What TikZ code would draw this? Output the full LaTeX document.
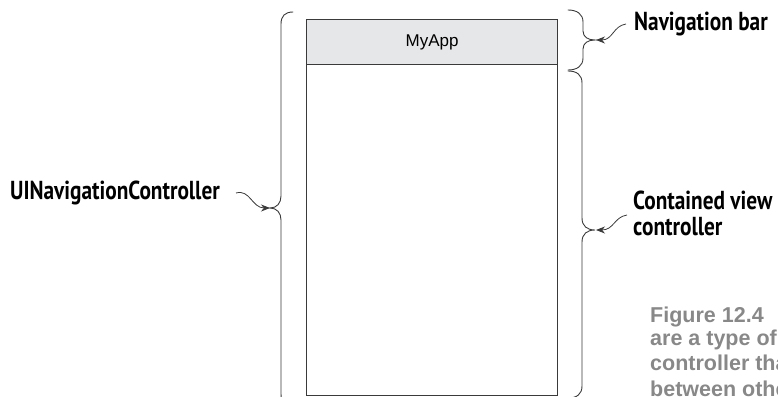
\documentclass[tikz,border=0pt]{standalone}
\usepackage{fontspec}
\setmainfont{Liberation Sans}
\newfontfamily\labfont[FakeStretch=0.82]{PT Sans}
\usetikzlibrary{arrows.meta}
\definecolor{navgray}{HTML}{E6E7E8}
\definecolor{linegray}{HTML}{3A3A3A}
\definecolor{capgray}{HTML}{888888}
\tikzset{
  brace/.style={draw=linegray, line width=0.9pt, line cap=round},
  ptr/.style={draw=linegray, line width=0.8pt, -{Stealth[length=9pt,width=7pt]}},
  lab/.style={font=\labfont\bfseries\fontsize{26}{26}\selectfont, inner sep=0pt, anchor=base west, align=left},
  capline/.style={font=\bfseries\fontsize{21.5}{21}\selectfont, text=capgray, inner sep=0pt, anchor=base west},
  screen/.style={draw=linegray, line width=1.3pt, inner sep=0pt, anchor=north west}
}
\begin{document}
\begin{tikzpicture}[x=1pt,y=-1pt]
\useasboundingbox (0,0) rectangle (778,396);
% screen
\node[screen, fill=navgray, minimum width=251pt, minimum height=45pt, font=\fontsize{17}{20}\selectfont] (bar) at (306,19) {MyApp};
\node[screen, minimum width=251pt, minimum height=331pt] (body) at (306,64) {};
% braces
\draw[brace] (293,12) .. controls (285,12) and (281,16) .. (281,24) -- (281,196)
  .. controls (281,203) and (277,208) .. (270,208)
  .. controls (277,208) and (281,213) .. (281,220) -- (281,394)
  .. controls (281,402) and (285,406) .. (293,406);
\coordinate (ltip) at (270,208);
\draw[brace] (568,10) .. controls (577,10) and (583,14) .. (583,22) -- (583,31)
  .. controls (583,37) and (588,40) .. (595,40)
  .. controls (588,40) and (583,43) .. (583,49) -- (583,58)
  .. controls (583,66) and (577,70) .. (568,70);
\coordinate (ntip) at (596,40);
\draw[brace] (568,71) .. controls (577,71) and (582,75) .. (582,83) -- (582,218)
  .. controls (582,226) and (587,230) .. (595,230)
  .. controls (587,230) and (582,234) .. (582,242) -- (582,386)
  .. controls (582,394) and (577,398) .. (568,398);
\coordinate (ctip) at (596,230);
% labels
\node[lab] (uinav) at (10,199) {UINavigationController};
\node[lab] (navbar) at (634,31) {Navigation bar};
\node[lab] (contained) at (633,235) {Contained view\\controller};
% pointers
\draw[ptr] (236,193) .. controls (250,189) and (252,208) .. (ltip);
\draw[ptr] (626,24) .. controls (613,26) and (613,40) .. (ntip);
\draw[ptr] (627,215) .. controls (614,217) and (614,230) .. (ctip);
% caption (cut off at the right and bottom edges, as in the reference)
\node[capline] (cap1) at (650,322) {Figure 12.4};
\node[capline] (cap2) at (650,345) {are a type of};
\node[capline] (cap3) at (650,370) {controller that};
\node[capline] (cap4) at (650,396) {between other};
\end{tikzpicture}
\end{document}
